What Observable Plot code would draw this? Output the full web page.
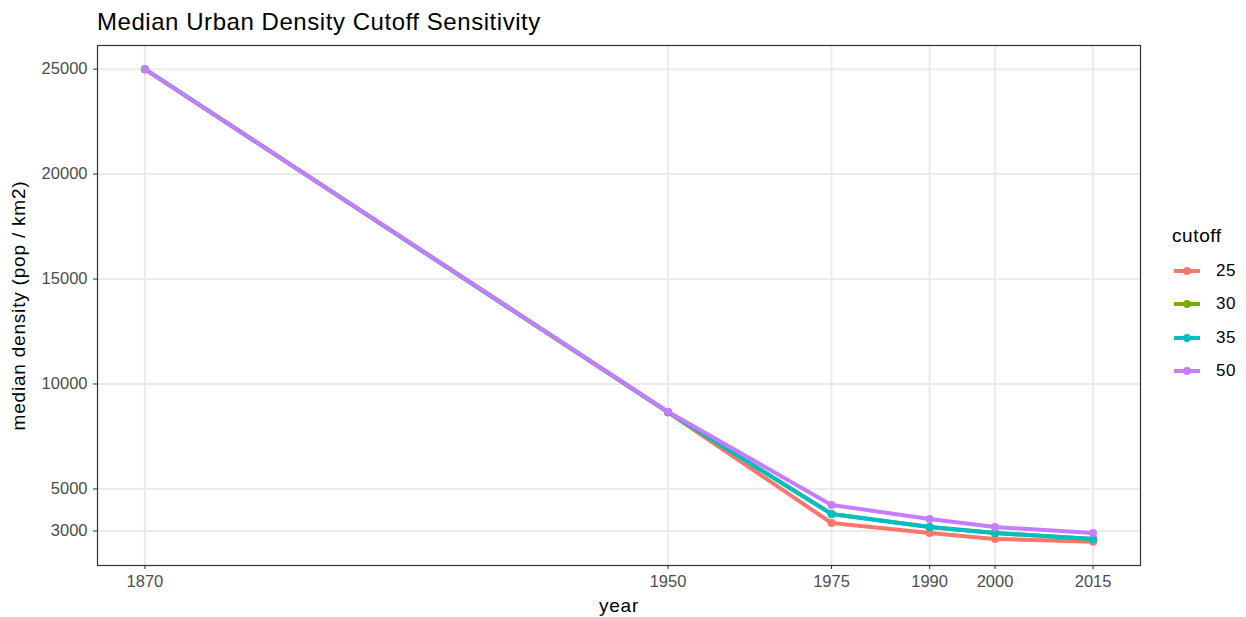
<!DOCTYPE html>
<html>
<head>
<meta charset="utf-8">
<script src="https://cdn.jsdelivr.net/npm/d3@7"></script>
<script src="https://cdn.jsdelivr.net/npm/@observablehq/plot@0.6"></script>
<style>
  html, body { margin: 0; padding: 0; background: #fff; }
  body { width: 1246px; height: 617px; position: relative; overflow: hidden; font-family: "Liberation Sans", Arial, sans-serif; }
  #title { position: absolute; left: 97px; top: 8px; font-size: 24px; letter-spacing: 0.55px; color: #000; white-space: nowrap; }
  #chart { position: absolute; left: 0; top: 40px; }
  #legend { position: absolute; left: 1172px; top: 225px; color: #000; }
  #legend .ttl { font-size: 19px; letter-spacing: 0.6px; height: 29px; }
  #legend .row { display: flex; align-items: center; height: 33.5px; }
  #legend .row span { margin-left: 14px; font-size: 17px; letter-spacing: 0.6px; }
</style>
</head>
<body>
<div id="title">Median Urban Density Cutoff Sensitivity</div>
<div id="chart"></div>
<div id="legend"></div>
<script>
const years = [1870, 1950, 1975, 1990, 2000, 2015];
const cutoffs = ["25", "30", "35", "50"];
const colors = ["#F8766D", "#7CAE00", "#00BFC4", "#C77CFF"];
const d25 = [25000, 8650, 3380, 2900, 2620, 2480];
const d30 = [25000, 8660, 3810, 3190, 2900, 2620];
const d35 = [25000, 8660, 3810, 3190, 2900, 2620];
const d50 = [25000, 8680, 4240, 3570, 3190, 2900];
const yTicks = [3000, 5000, 10000, 15000, 20000, 25000];
const xTicks = years;

const series = [d25, d30, d35, d50];
const data = [];
cutoffs.forEach((c, i) => years.forEach((y, j) => data.push({year: y, value: series[i][j], cutoff: c})));

const xmin = 1870, xmax = 2015, xpad = (xmax - xmin) * 0.05;
const allV = data.map(d => d.value);
const vmin = d3.min(allV), vmax = d3.max(allV), vpad = (vmax - vmin) * 0.05;

const plot = Plot.plot({
  width: 1246,
  height: 577,
  marginLeft: 97,
  marginRight: 106,
  marginTop: 5,
  marginBottom: 52,
  style: {fontFamily: "Liberation Sans, Arial, sans-serif", fontSize: "16.5px", background: "#fff"},
  x: {domain: [xmin - xpad, xmax + xpad]},
  y: {domain: [vmin - vpad, vmax + vpad]},
  color: {domain: cutoffs, range: colors},
  marks: [
    Plot.gridX(xTicks, {stroke: "#ebebeb", strokeOpacity: 1, strokeWidth: 2}),
    Plot.gridY(yTicks, {stroke: "#ebebeb", strokeOpacity: 1, strokeWidth: 2}),
    Plot.line(data, {x: "year", y: "value", z: "cutoff", stroke: "cutoff", strokeWidth: 4, strokeLinejoin: "round"}),
    Plot.dot(data, {x: "year", y: "value", fill: "cutoff", r: 4}),
    Plot.frame({stroke: "#333333", strokeWidth: 1.2}),
    Plot.axisX({ticks: xTicks, tickFormat: d => String(d), tickSize: 4, tickPadding: 6, fontSize: 16.5, color: "#4d4d4d", stroke: "#333333", label: null}),
    Plot.axisX({ticks: [], label: "year", labelAnchor: "center", labelArrow: "none", labelOffset: 46, fontSize: 19, color: "#000"}),
    Plot.axisY({ticks: yTicks, tickFormat: d => String(d), tickSize: 4, tickPadding: 6, fontSize: 16.5, color: "#4d4d4d", stroke: "#333333", label: null}),
    Plot.axisY({ticks: [], label: "median density (pop / km2)", labelAnchor: "center", labelArrow: "none", labelOffset: 86, fontSize: 19, color: "#000"})
  ]
});
document.getElementById("chart").appendChild(plot);

const tickStrings = new Set([...xTicks, ...yTicks].map(String));
d3.select(plot).selectAll("text").each(function() {
  const s = this.textContent.trim();
  if (tickStrings.has(s)) {
    this.setAttribute("font-size", "16.5");
    this.style.fontSize = "16.5px";
  } else {
    this.style.letterSpacing = "0.8px";
  }
});

const legend = document.getElementById("legend");
const t = document.createElement("div");
t.className = "ttl";
t.textContent = "cutoff";
legend.appendChild(t);
cutoffs.forEach((c, i) => {
  const row = document.createElement("div");
  row.className = "row";
  row.innerHTML = `<svg width="30" height="12"><line x1="2" x2="28" y1="6" y2="6" stroke="${colors[i]}" stroke-width="4"/><circle cx="15" cy="6" r="4" fill="${colors[i]}"/></svg><span>${c}</span>`;
  legend.appendChild(row);
});
</script>
</body>
</html>
